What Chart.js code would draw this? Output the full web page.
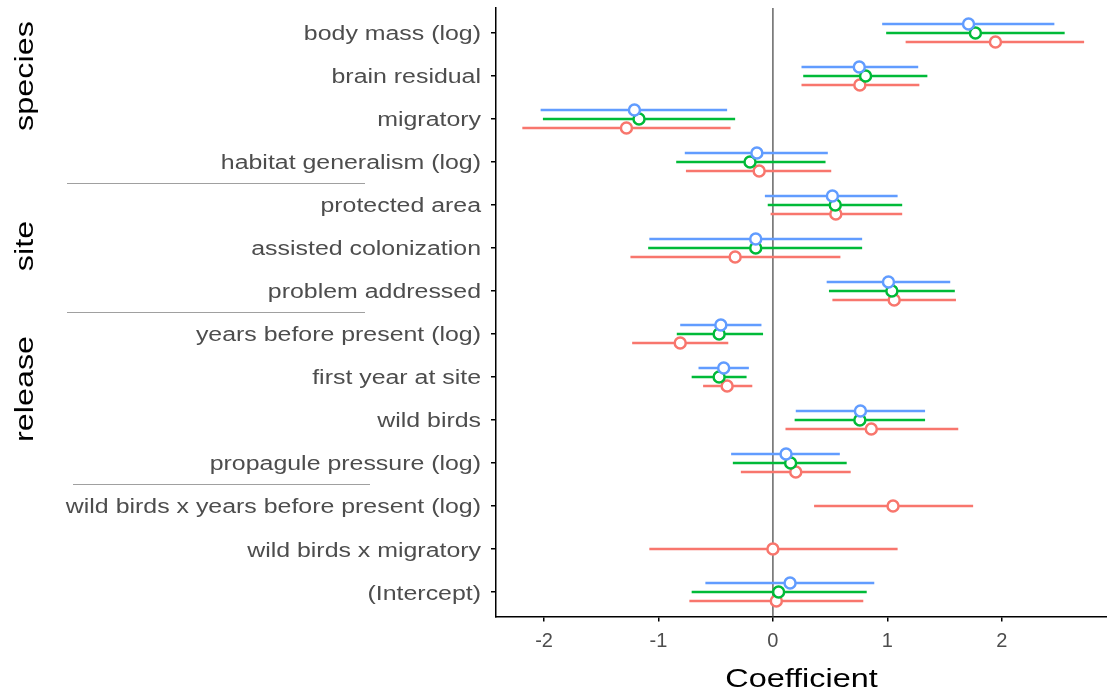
<!DOCTYPE html>
<html>
<head>
<meta charset="utf-8">
<script src="https://cdn.jsdelivr.net/npm/chart.js@4"></script>
<style>
  body { margin: 0; background: #fff; overflow: hidden; }
  #wrap { width: 1107px; height: 694px; position: relative; }
</style>
</head>
<body>
<div id="wrap"><canvas id="myChart"></canvas></div>
<script>
const categories = [
  'body mass (log)', 'brain residual', 'migratory', 'habitat generalism (log)',
  'protected area', 'assisted colonization', 'problem addressed',
  'years before present (log)', 'first year at site', 'wild birds', 'propagule pressure (log)',
  'wild birds x years before present (log)', 'wild birds x migratory', '(Intercept)'
];
const xTicks = [-2, -1, 0, 1, 2];

const groupNames = ['species', 'site', 'release'];
const groupLastRow = [3, 6, 10];

// estimates and interval ends, one row per category
const blueEst = [1.71, 0.755, -1.21, -0.14, 0.52, -0.15, 1.01, -0.455, -0.43, 0.765, 0.115, null, null, 0.15];
const blueLo  = [0.955, 0.25, -2.03, -0.77, -0.07, -1.08, 0.47, -0.81, -0.65, 0.20, -0.365, null, null, -0.59];
const blueHi  = [2.46, 1.27, -0.40, 0.48, 1.09, 0.78, 1.55, -0.10, -0.21, 1.33, 0.585, null, null, 0.886];

const greenEst = [1.77, 0.81, -1.17, -0.20, 0.545, -0.15, 1.04, -0.47, -0.47, 0.76, 0.155, null, null, 0.05];
const greenLo  = [0.99, 0.265, -2.01, -0.845, -0.045, -1.09, 0.49, -0.84, -0.71, 0.19, -0.35, null, null, -0.71];
const greenHi  = [2.55, 1.35, -0.33, 0.46, 1.13, 0.78, 1.59, -0.086, -0.23, 1.33, 0.645, null, null, 0.82];

const redEst = [1.945, 0.76, -1.28, -0.12, 0.55, -0.33, 1.06, -0.81, -0.40, 0.86, 0.20, 1.05, 0.0, 0.03];
const redLo  = [1.16, 0.25, -2.19, -0.76, -0.02, -1.245, 0.52, -1.23, -0.61, 0.11, -0.28, 0.36, -1.08, -0.73];
const redHi  = [2.72, 1.28, -0.37, 0.51, 1.13, 0.59, 1.60, -0.39, -0.18, 1.62, 0.68, 1.75, 1.09, 0.79];

const series = [
  { name: 'model 1', color: '#619CFF', est: blueEst, lo: blueLo, hi: blueHi },
  { name: 'model 2', color: '#00BA38', est: greenEst, lo: greenLo, hi: greenHi },
  { name: 'model 3', color: '#F8766D', est: redEst, lo: redLo, hi: redHi }
];

const FONT = "'Liberation Sans', Arial, sans-serif";
const STRETCH = 1.245; // the original font runs wider than Arial

// dodge the series inside a row, centred on whatever is present
function buildPoints(sIdx) {
  const s = series[sIdx];
  const pts = [];
  categories.forEach((c, i) => {
    if (s.est[i] === null) return;
    const present = series.map((o, k) => o.est[i] !== null ? k : -1).filter(k => k >= 0);
    const pos = present.indexOf(sIdx);
    const off = (pos - (present.length - 1) / 2) * 0.21;
    pts.push({ x: s.est[i], y: i + off, lo: s.lo[i], hi: s.hi[i] });
  });
  return pts;
}

function wideText(ctx, text, x, y, angle) {
  ctx.save();
  ctx.translate(x, y);
  if (angle) ctx.rotate(angle);
  ctx.scale(STRETCH, 1);
  ctx.fillText(text, 0, 0);
  ctx.restore();
}

const errorBars = {
  id: 'errorBars',
  beforeDatasetDraw(chart, args) {
    const ds = chart.data.datasets[args.index];
    const xs = chart.scales.x, ys = chart.scales.y;
    const ctx = chart.ctx;
    ctx.save();
    ctx.strokeStyle = ds.borderColor;
    ctx.lineWidth = 2.5;
    ds.data.forEach(p => {
      const py = ys.getPixelForValue(p.y);
      ctx.beginPath();
      ctx.moveTo(xs.getPixelForValue(p.lo), py);
      ctx.lineTo(xs.getPixelForValue(p.hi), py);
      ctx.stroke();
    });
    ctx.restore();
  }
};

const zeroLine = {
  id: 'zeroLine',
  beforeDatasetsDraw(chart) {
    const ctx = chart.ctx, a = chart.chartArea;
    const px = chart.scales.x.getPixelForValue(0);
    ctx.save();
    ctx.strokeStyle = '#666';
    ctx.lineWidth = 1.5;
    ctx.beginPath();
    ctx.moveTo(px, a.top);
    ctx.lineTo(px, a.bottom);
    ctx.stroke();
    ctx.restore();
  }
};

// row labels, axis title, group labels and separators
const labels = {
  id: 'labels',
  afterDraw(chart) {
    const ctx = chart.ctx, xs = chart.scales.x, ys = chart.scales.y;
    ctx.save();

    ctx.fillStyle = '#4d4d4d';
    ctx.font = '20px ' + FONT;
    ctx.textAlign = 'right';
    ctx.textBaseline = 'middle';
    categories.forEach((c, i) => {
      wideText(ctx, c, 481, ys.getPixelForValue(i) + 2);
    });

    ctx.fillStyle = '#000';
    ctx.font = '26px ' + FONT;
    ctx.textAlign = 'center';
    ctx.textBaseline = 'alphabetic';
    wideText(ctx, 'Coefficient', (xs.left + xs.right) / 2, 687);

    const labelY = [76, 246, 389];
    groupNames.forEach((name, g) => {
      wideText(ctx, name, 33, labelY[g], -Math.PI / 2);
    });

    const sepX = [[67, 365], [67, 365], [73, 370]];
    ctx.strokeStyle = '#a0a0a0';
    ctx.lineWidth = 1;
    groupLastRow.forEach((r, g) => {
      const py = Math.round(ys.getPixelForValue(r + 0.5)) + 0.5;
      ctx.beginPath();
      ctx.moveTo(sepX[g][0], py);
      ctx.lineTo(sepX[g][1], py);
      ctx.stroke();
    });
    ctx.restore();
  }
};

const ctx = document.querySelector('#myChart').getContext('2d');

new Chart(ctx, {
  type: 'scatter',
  data: {
    datasets: series.map((s, k) => ({
      label: s.name,
      data: buildPoints(k),
      borderColor: s.color,
      backgroundColor: '#fff',
      pointBackgroundColor: '#fff',
      pointBorderColor: s.color,
      pointBorderWidth: 2.5,
      pointRadius: 5.5,
      pointHoverRadius: 5.5
    }))
  },
  options: {
    responsive: true,
    maintainAspectRatio: false,
    animation: false,
    layout: { autoPadding: false, padding: { left: 0, right: 0, top: 8, bottom: 0 } },
    plugins: {
      legend: { display: false },
      tooltip: { enabled: false }
    },
    scales: {
      x: {
        type: 'linear',
        min: -2.42,
        max: 2.92,
        afterBuildTicks: axis => { axis.ticks = xTicks.map(v => ({ value: v })); },
        afterFit: axis => {
          axis.height = 77.5;
          axis.paddingLeft = 0;
          axis.paddingRight = 0;
        },
        grid: { display: true, drawOnChartArea: false, drawTicks: true, tickLength: 5, color: '#000', lineWidth: 1.5 },
        border: { display: true, color: '#000', width: 1.5 },
        ticks: { color: '#4d4d4d', font: { family: FONT, size: 20 }, padding: 8 }
      },
      y: {
        type: 'linear',
        reverse: true,
        min: -0.58,
        max: 13.57,
        afterBuildTicks: axis => { axis.ticks = categories.map((c, i) => ({ value: i })); },
        afterFit: axis => {
          axis.width = 496;
          axis.paddingTop = 0;
          axis.paddingBottom = 0;
        },
        grid: { display: true, drawOnChartArea: false, drawTicks: true, tickLength: 5, color: '#000', lineWidth: 1.5 },
        border: { display: true, color: '#000', width: 1.5 },
        ticks: { display: false }
      }
    }
  },
  plugins: [zeroLine, errorBars, labels]
});
</script>
</body>
</html>
